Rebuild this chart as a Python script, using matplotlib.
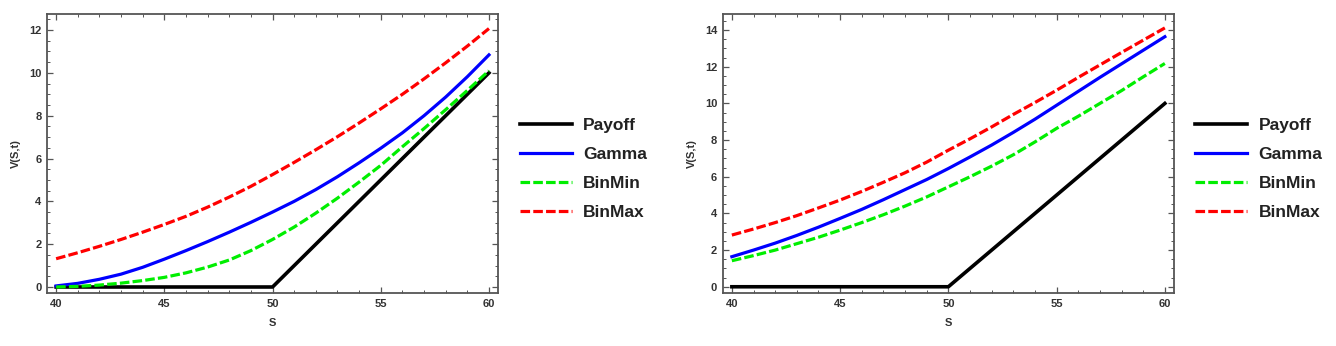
import matplotlib.pyplot as plt
from matplotlib.ticker import MultipleLocator

# Asset price grid
S = [40, 41, 42, 43, 44, 45, 46, 47, 48, 49, 50,
     51, 52, 53, 54, 55, 56, 57, 58, 59, 60]

# Payoff (kink at strike 50)
payoff_S = [40, 50, 60]
payoff_V = [0, 0, 10]

# Left panel
gamma_left = [0.05, 0.17, 0.36, 0.6, 0.92, 1.3, 1.7, 2.12, 2.56, 3.02, 3.5,
              4.0, 4.55, 5.15, 5.8, 6.48, 7.2, 8.0, 8.87, 9.82, 10.84]
binmin_left = [0.0, 0.03, 0.09, 0.18, 0.3, 0.45, 0.66, 0.93, 1.26, 1.7, 2.22,
               2.8, 3.45, 4.15, 4.9, 5.68, 6.55, 7.4, 8.28, 9.18, 10.1]
binmax_left = [1.32, 1.6, 1.9, 2.22, 2.56, 2.92, 3.3, 3.73, 4.2, 4.7, 5.25,
               5.82, 6.41, 7.02, 7.66, 8.32, 9.0, 9.72, 10.47, 11.25, 12.07]

# Right panel
gamma_right = [1.64, 2.0, 2.38, 2.8, 3.25, 3.73, 4.22, 4.75, 5.3, 5.85, 6.45,
               7.08, 7.73, 8.42, 9.14, 9.9, 10.66, 11.42, 12.16, 12.9, 13.64]
binmin_right = [1.42, 1.7, 2.0, 2.35, 2.7, 3.09, 3.5, 3.93, 4.4, 4.9, 5.45,
                6.0, 6.58, 7.2, 7.9, 8.64, 9.3, 10.0, 10.7, 11.45, 12.18]
binmax_right = [2.82, 3.15, 3.5, 3.88, 4.3, 4.73, 5.2, 5.7, 6.22, 6.8, 7.45,
                8.07, 8.72, 9.4, 10.05, 10.72, 11.42, 12.1, 12.78, 13.45, 14.12]

labels = ["Payoff", "Gamma", "BinMin", "BinMax"]

plt.rcParams['font.family'] = ['Liberation Sans', 'DejaVu Sans']

fig = plt.figure(figsize=(13.36, 3.46), dpi=100)
ax1 = fig.add_axes([0.0352, 0.1532, 0.3376, 0.8064])
ax2 = fig.add_axes([0.5410, 0.1532, 0.3377, 0.8064])

panels = [
    (ax1, gamma_left, binmin_left, binmax_left, (-0.28, 12.75), 0.389),
    (ax2, gamma_right, binmin_right, binmax_right, (-0.34, 14.88), 0.8945),
]

for ax, gam, bmin, bmax, ylim, leg_x in panels:
    l1, = ax.plot(payoff_S, payoff_V, color="black", lw=2.6)
    l2, = ax.plot(S, gam, color="#0000ff", lw=2.3)
    l3, = ax.plot(S, bmin, color="#00ee00", lw=2.3, dashes=(3, 1))
    l4, = ax.plot(S, bmax, color="#ff0000", lw=2.3, dashes=(3, 1))

    ax.set_xlim(39.58, 60.42)
    ax.set_ylim(*ylim)
    ax.xaxis.set_major_locator(MultipleLocator(5))
    ax.xaxis.set_minor_locator(MultipleLocator(1))
    ax.yaxis.set_major_locator(MultipleLocator(2))
    ax.yaxis.set_minor_locator(MultipleLocator(0.5))
    ax.tick_params(which="both", direction="in", top=True, right=True,
                   color="#555555", labelsize=8, labelcolor="#333333", pad=4)
    ax.tick_params(which="major", length=4, width=0.9)
    ax.tick_params(which="minor", length=2, width=0.7)
    for lab in ax.get_xticklabels() + ax.get_yticklabels():
        lab.set_fontweight("bold")
    for sp in ax.spines.values():
        sp.set_color("#555555")
        sp.set_linewidth(1.3)
    ax.set_xlabel("S", fontsize=8, fontweight="bold", color="#333333", labelpad=7)
    ax.set_ylabel("V(S,t)", fontsize=8, fontweight="bold", color="#333333", labelpad=6)

    fig.legend([l1, l2, l3, l4], labels, loc="center left",
               bbox_to_anchor=(leg_x, 0.5116), frameon=False,
               borderaxespad=0, borderpad=0, handlelength=3.0,
               handletextpad=0.65, labelspacing=0.8,
               prop={"size": 12.5, "weight": "bold"}, labelcolor="#222222")

fig.savefig("out.png", dpi=100)
